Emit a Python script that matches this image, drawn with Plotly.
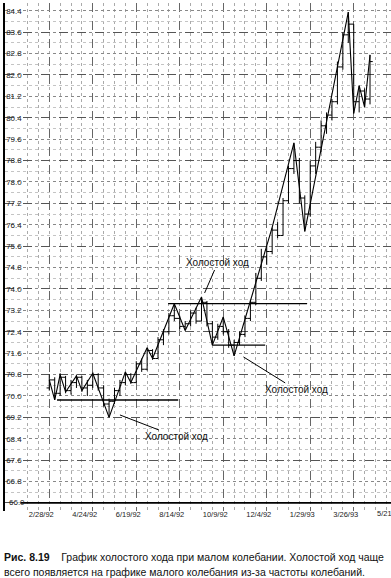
import plotly.graph_objects as go
import pandas as pd

# ---------------- data ----------------
week_start = "1992-02-28"
bar_open  = [70.3,70.6,70.1,70.7,70.2,70.5,70.7,70.3,70.4,70.8,70.3,69.7,69.8,70.2,70.5,70.8,70.5,71.2,71.0,71.7,
             71.4,72.1,72.4,73.0,72.9,72.6,72.7,73.1,72.8,73.5,72.7,72.2,72.6,72.4,71.9,72.0,72.3,72.9,73.5,74.4,
             75.2,75.4,76.2,76.0,77.3,78.5,78.8,77.4,76.8,78.6,79.3,80.1,80.5,81.0,82.3,83.5,83.9,81.0,81.4,81.1]
bar_high  = [70.8,70.7,70.85,70.75,70.6,70.8,70.75,70.6,70.9,70.85,70.4,69.9,70.3,70.6,70.9,70.85,71.3,71.4,71.8,71.75,
             72.2,72.5,73.1,73.45,73.0,72.8,73.2,73.3,73.7,73.55,72.8,72.7,72.95,72.5,72.1,72.4,73.0,73.6,74.6,75.5,
             75.6,76.3,76.5,77.4,78.6,79.46,78.9,77.5,78.8,79.5,80.3,80.6,81.1,82.5,83.6,84.35,83.9,81.6,81.5,82.75]
bar_low   = [70.2,69.85,70.0,70.1,70.05,70.3,70.15,70.0,70.3,70.2,69.6,69.2,69.7,70.0,70.4,70.45,70.5,70.9,70.95,71.35,
             71.4,71.9,72.3,72.8,72.5,72.45,72.6,72.7,72.8,72.6,71.9,72.1,72.3,71.8,71.5,71.9,72.2,72.8,73.4,74.3,
             74.9,75.3,75.9,76.0,77.2,78.3,77.2,76.15,76.7,78.3,79.1,79.8,80.3,80.9,82.2,83.2,80.56,80.6,80.8,80.9]
bar_close = [70.6,70.1,70.7,70.2,70.5,70.7,70.3,70.4,70.8,70.3,69.7,69.8,70.2,70.5,70.8,70.5,71.2,71.0,71.7,71.4,
             72.1,72.4,73.0,72.9,72.6,72.7,73.1,72.8,73.5,72.7,72.2,72.6,72.4,71.9,72.0,72.3,72.9,73.5,74.4,75.2,
             75.4,76.2,76.0,77.3,78.5,78.8,77.4,76.8,78.6,79.3,80.1,80.5,81.0,82.3,83.5,83.9,81.0,81.4,81.1,82.5]

swing_weeks  = [0, 1, 2, 3, 5, 6, 8, 11, 14, 15, 18, 19, 23, 25, 28, 30, 32, 34, 41, 45, 47, 55, 56, 57, 58, 59]
swing_values = [70.6, 69.85, 70.8, 70.15, 70.75, 70.2, 70.85, 69.2, 70.9, 70.5, 71.8, 71.4, 73.45, 72.45, 73.7,
                71.9, 72.95, 71.5, 76.3, 79.46, 76.15, 84.35, 80.56, 81.6, 80.8, 82.75]

level_values = [69.85, 73.45, 71.9]
level_from   = ["1992-03-09", "1992-07-30", "1992-09-25"]
level_to     = ["1992-08-12", "1993-01-25", "1992-12-02"]

x_range = ["1992-01-02", "1993-05-13"]
tick_dates  = ["1992-02-28", "1992-04-24", "1992-06-19", "1992-08-14", "1992-10-09",
               "1992-12-04", "1993-01-29", "1993-03-26"]
tick_labels = ["2/28/92", "4/24/92", "6/19/92", "8/14/92", "10/9/92",
               "12/4/92", "1/29/93", "3/26/93"]
last_tick_label = "5/21/93"

y_ticks = [66.0, 66.8, 67.6, 68.4, 69.2, 70.0, 70.8, 71.6, 72.4, 73.2, 74.0, 74.8,
           75.6, 76.4, 77.2, 78.0, 78.8, 79.6, 80.4, 81.2, 82.0, 82.8, 83.6, 84.4]
y_major = y_ticks[::2]
y_base = y_ticks[0]

note_text  = "Холостой ход"
note_dates = ["1992-09-15", "1992-05-29", "1992-11-04"]
note_vals  = [73.85, 69.29, 71.46]

caption1 = "<b>Рис. 8.19</b>\u00a0\u00a0\u00a0 График холостого хода при малом колебании. Холостой ход чаще"
caption2 = "всего появляется на графике малого колебания из-за частоты колебаний."

# ---------------- figure ----------------
base = pd.Timestamp(week_start)
bar_dates = [base + pd.Timedelta(days=7 * i) for i in range(len(bar_close))]
swing_dates = [base + pd.Timedelta(days=7 * w) for w in swing_weeks]

fig = go.Figure()

fig.add_trace(go.Ohlc(
    x=bar_dates, open=bar_open, high=bar_high, low=bar_low, close=bar_close,
    increasing=dict(line=dict(color="black", width=1)),
    decreasing=dict(line=dict(color="black", width=1)),
    tickwidth=0.5, hoverinfo="skip", showlegend=False))

fig.add_trace(go.Scatter(
    x=swing_dates, y=swing_values, mode="lines",
    line=dict(color="black", width=1.1), hoverinfo="skip", showlegend=False))

for v, a, b in zip(level_values, level_from, level_to):
    fig.add_trace(go.Scatter(
        x=[a, b], y=[v, v], mode="lines", yaxis="y2",
        line=dict(color="black", width=1.3), hoverinfo="skip", showlegend=False))

# baseline (x axis line) at 66.0, starting just right of the "66.0" label
fig.add_trace(go.Scatter(
    x=["1992-01-22", x_range[1]], y=[y_base, y_base], mode="lines",
    line=dict(color="black", width=1.8), hoverinfo="skip", showlegend=False, cliponaxis=False))

offsets = [(13, -30), (57, 22), (53, 33)]
for d, v, (ax, ay) in zip(note_dates, note_vals, offsets):
    fig.add_annotation(x=d, y=v, xref="x", yref="y", text=note_text,
                       showarrow=True, arrowhead=0, arrowwidth=1, arrowcolor="black",
                       ax=ax, ay=ay, font=dict(family="Liberation Sans, Arial", size=10, color="#111"))

# plot area: x from 5 to 391 px, y from 3 to 511 px (66.0 at 503 px)
axis_pos = 8 / 508.0

# label 66.0 (sits right at the lower edge, drawn as text)
fig.add_annotation(x=0.005, y=y_base, xref="paper", yref="y", text=f"{y_base:.1f}",
                   showarrow=False, xanchor="left", yanchor="middle",
                   font=dict(family="Liberation Sans Narrow, Liberation Sans, Arial", size=8, color="#222"))

# last date label, cut by the right edge as in the original
fig.add_annotation(x=(397 - 5) / 386.0, y=axis_pos, xref="paper", yref="paper", text=last_tick_label,
                   showarrow=False, xanchor="center", yanchor="top", yshift=-4, xshift=-8,
                   font=dict(family="Liberation Sans, Arial", size=7.5, color="#222"))

fig.add_annotation(x=-0.008, y=-0.0915, xref="paper", yref="paper", text=caption1,
                   showarrow=False, xanchor="left", yanchor="middle", align="left",
                   font=dict(family="Liberation Sans, Arial", size=10.5, color="#111"))
fig.add_annotation(x=-0.008, y=-0.120, xref="paper", yref="paper", text=caption2,
                   showarrow=False, xanchor="left", yanchor="middle", align="left",
                   font=dict(family="Liberation Sans, Arial", size=10.5, color="#111"))

yr = [65.7, 84.69]
fig.update_layout(
    width=391, height=578,
    margin=dict(l=5, r=0, t=3, b=67),
    paper_bgcolor="white", plot_bgcolor="white",
    showlegend=False,
    xaxis=dict(
        type="date", range=x_range,
        anchor="free", position=axis_pos,
        tickvals=tick_dates, ticktext=tick_labels, ticks="",
        ticklabelshift=-8, ticklabelstandoff=5,
        tickfont=dict(family="Liberation Sans, Arial", size=7.5, color="#222"),
        showgrid=True, gridcolor="#666", griddash="dash", gridwidth=1,
        minor=dict(dtick=14 * 86400000, tick0="1992-02-28", showgrid=True,
                   gridcolor="#aaa", griddash="dot", gridwidth=1),
        showline=False, zeroline=False, rangeslider=dict(visible=False), fixedrange=True),
    yaxis=dict(
        range=yr, tickvals=y_ticks[1:], ticktext=[f"{t:.1f}" for t in y_ticks[1:]],
        ticklabelposition="inside", ticks="",
        tickfont=dict(family="Liberation Sans Narrow, Liberation Sans, Arial", size=8, color="#222"),
        showgrid=True, gridcolor="#888", griddash="dot", gridwidth=1,
        minor=dict(dtick=0.4, tick0=66.0, showgrid=True, gridcolor="#c4c4c4",
                   griddash="dot", gridwidth=1),
        showline=True, linecolor="black", linewidth=1.5, zeroline=False),
    yaxis2=dict(
        range=yr, overlaying="y", side="left", tickvals=y_major, showticklabels=False,
        ticks="", showgrid=True, gridcolor="#555", griddash="dash", gridwidth=1,
        showline=False, zeroline=False),
)

fig.write_html("out.html")
